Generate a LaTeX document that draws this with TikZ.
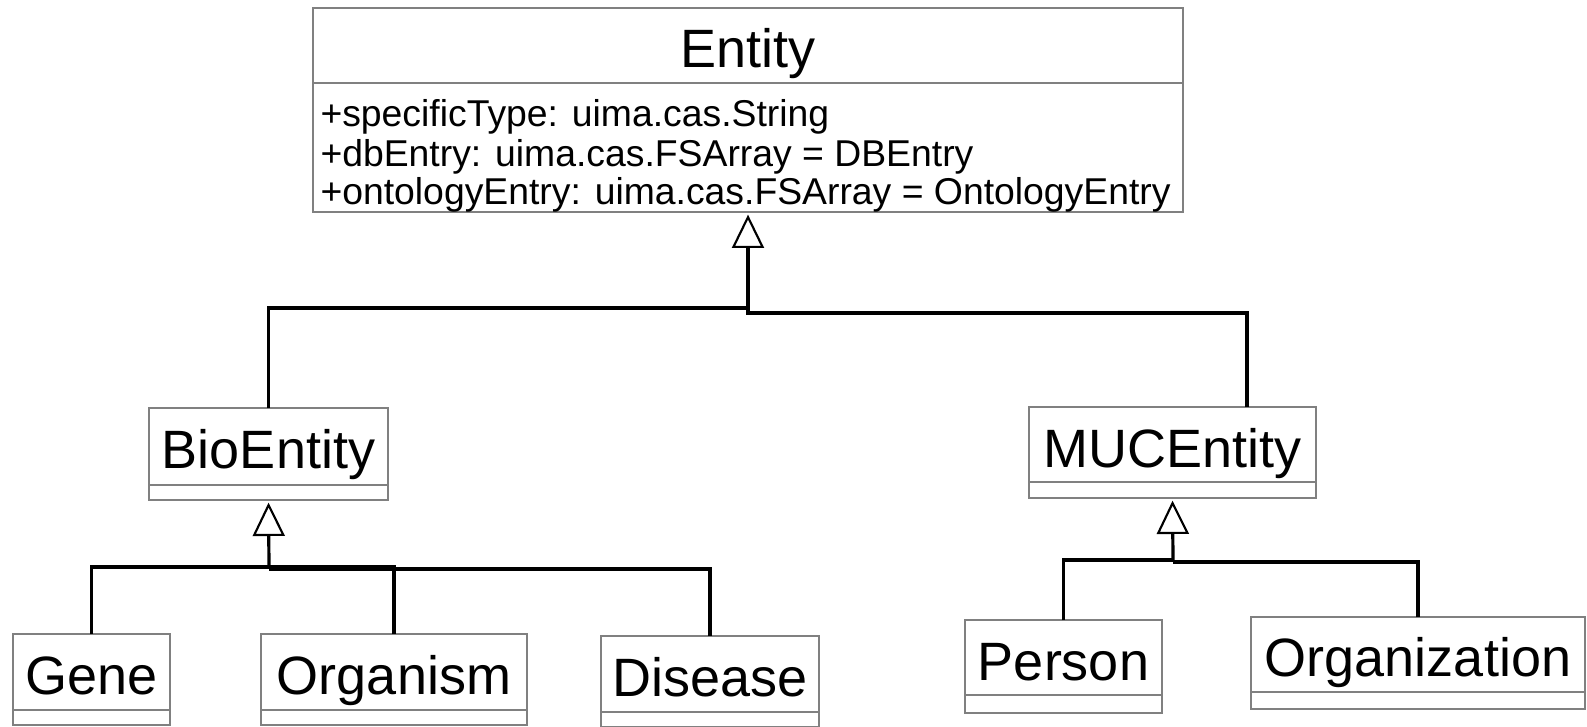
\documentclass[tikz,border=0pt]{standalone}
\usepackage{fontspec}
\setmainfont{Liberation Sans}
\usetikzlibrary{arrows.meta}
\definecolor{umlgray}{RGB}{128,128,128}
\tikzset{every picture/.style={line width=0.75pt}}
\tikzset{
  classbox/.style={draw=umlgray, line width=2.1pt, rectangle, inner sep=0pt, outer sep=0pt},
  classname/.style={anchor=base, inner sep=0pt, font=\fontsize{40.5}{48}\selectfont},
  attr/.style={anchor=base west, inner sep=0pt, font=\fontsize{28}{34}\selectfont},
  genline/.style={draw=black, line width=2.4pt},
  genarrow/.style={-{Triangle[open, length=25pt, width=24pt, line width=1.6pt]}, shorten >=2pt}
}

\begin{document}
\begin{tikzpicture}[x=0.75pt,y=0.75pt,yscale=-1,xscale=1]
\useasboundingbox (0,0) rectangle (1587,727);

%Shape: Class Entity
\node (entity) [classbox, minimum width=652.5pt, minimum height=153pt] at (748,110) {};
\draw [classbox] ([yshift=56.25pt]entity.north west) -- ([yshift=56.25pt]entity.north east);
%Shape: Class BioEntity
\node (bio) [classbox, minimum width=179.25pt, minimum height=69pt] at (268.5,454) {};
\draw [classbox] ([yshift=-11.25pt]bio.south west) -- ([yshift=-11.25pt]bio.south east);
%Shape: Class MUCEntity
\node (muc) [classbox, minimum width=215.25pt, minimum height=68.25pt] at (1172.5,452.5) {};
\draw [classbox] ([yshift=-12pt]muc.south west) -- ([yshift=-12pt]muc.south east);
%Shape: Class Gene
\node (gene) [classbox, minimum width=117.75pt, minimum height=68.25pt] at (91.5,679.5) {};
\draw [classbox] ([yshift=-11.25pt]gene.south west) -- ([yshift=-11.25pt]gene.south east);
%Shape: Class Organism
\node (organism) [classbox, minimum width=199.5pt, minimum height=68.25pt] at (394,679.5) {};
\draw [classbox] ([yshift=-11.25pt]organism.south west) -- ([yshift=-11.25pt]organism.south east);
%Shape: Class Disease
\node (disease) [classbox, minimum width=163.5pt, minimum height=68.25pt] at (710,681.5) {};
\draw [classbox] ([yshift=-11.25pt]disease.south west) -- ([yshift=-11.25pt]disease.south east);
%Shape: Class Person
\node (person) [classbox, minimum width=147.75pt, minimum height=69.75pt] at (1063.5,666.5) {};
\draw [classbox] ([yshift=-13.5pt]person.south west) -- ([yshift=-13.5pt]person.south east);
%Shape: Class Organization
\node (organization) [classbox, minimum width=250.5pt, minimum height=69pt] at (1418,663) {};
\draw [classbox] ([yshift=-12.75pt]organization.south west) -- ([yshift=-12.75pt]organization.south east);

% Junctions
\coordinate (entityjoinL) at (748,308);
\coordinate (entityjoinR) at (748,313);
\coordinate (biojoin) at (269,567);
\coordinate (mucjoin) at (1173,560);

%Generalization: BioEntity, MUCEntity -> Entity
\draw [genline] (bio.north) |- (entityjoinL);
\draw [genline, genarrow] ([xshift=55.9pt]muc.north) |- (entityjoinR) -- (entity.south);
%Generalization: Gene, Organism, Disease -> BioEntity
\draw [genline] (gene.north) |- (biojoin);
\draw [genline] (organism.north) |- (biojoin);
\draw [genline] (disease.north) |- ([yshift=1.5pt]biojoin);
\draw [genline, genarrow] (biojoin) -- (bio.south);
%Generalization: Person, Organization -> MUCEntity
\draw [genline] (person.north) |- (mucjoin);
\draw [genline] (organization.north) |- ([yshift=1.5pt]mucjoin);
\draw [genline, genarrow] (mucjoin) -- (muc.south);

% Text Node
\draw (748,68) node (entityname) [classname] {Entity};
% Text Node
\draw (320,127) node (attrtype) [attr] {+specificType: uima.cas.String};
% Text Node
\draw (320,167) node (attrdb) [attr] {+dbEntry: uima.cas.FSArray = DBEntry};
% Text Node
\draw (320,205) node (attronto) [attr] {+ontologyEntry: uima.cas.FSArray = OntologyEntry};
% Text Node
\draw (268.5,468) node (bioname) [classname] {BioEntity};
% Text Node
\draw (1172.5,467) node (mucname) [classname] {MUCEntity};
% Text Node
\draw (91.5,694) node (genename) [classname] {Gene};
% Text Node
\draw (394,694) node (organismname) [classname] {Organism};
% Text Node
\draw (710,696) node (diseasename) [classname] {Disease};
% Text Node
\draw (1063.5,680) node (personname) [classname] {Person};
% Text Node
\draw (1418,676) node (organizationname) [classname] {Organization};

\end{tikzpicture}
\end{document}
